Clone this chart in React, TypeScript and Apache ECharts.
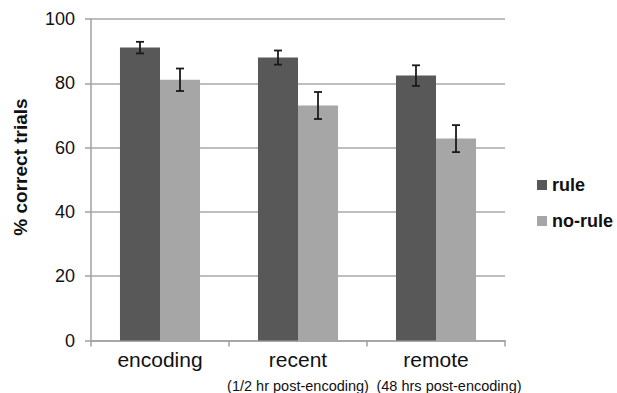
import React, { useEffect, useRef } from "react";
import * as echarts from "echarts";

const categories = ["encoding", "recent", "remote"];
const subLabels = ["", "(1/2 hr post-encoding)", "(48 hrs post-encoding)"];
const seriesNames = ["rule", "no-rule"];
const ruleValues = [91.1, 88.0, 82.4];
const ruleErrors = [1.8, 2.2, 3.2];
const noRuleValues = [81.1, 73.1, 62.8];
const noRuleErrors = [3.5, 4.2, 4.2];
const yTitle = "% correct trials";
const yMin = 0;
const yMax = 100;
const yInterval = 20;

const FONT = "'Liberation Sans', Arial, Helvetica, sans-serif";
const BAR_GAP_FRAC = 0.42;

function errorSeries(values: number[], errors: number[], sign: number) {
  const frac = ((1 - BAR_GAP_FRAC) / 4) * sign;
  return {
    type: "custom",
    name: "err",
    z: 5,
    silent: true,
    data: values.map((v, i) => [i, v - errors[i], v + errors[i]]),
    encode: { x: 0, y: [1, 2] },
    renderItem: (params: any, api: any) => {
      const cat = api.value(0);
      const lo = api.coord([cat, api.value(1)]);
      const hi = api.coord([cat, api.value(2)]);
      const band = api.size([1, 0])[0];
      const x = lo[0] + band * frac;
      const cap = 4;
      const style = { stroke: "#1a1a1a", lineWidth: 1.8 };
      return {
        type: "group",
        children: [
          { type: "line", shape: { x1: x, y1: lo[1], x2: x, y2: hi[1] }, style },
          { type: "line", shape: { x1: x - cap, y1: lo[1], x2: x + cap, y2: lo[1] }, style },
          { type: "line", shape: { x1: x - cap, y1: hi[1], x2: x + cap, y2: hi[1] }, style },
        ],
      };
    },
  };
}

export default function App() {
  const ref = useRef<HTMLDivElement>(null);
  useEffect(() => {
    if (!ref.current) return;
    const chart = echarts.init(ref.current, undefined, { renderer: "svg" });
    chart.setOption({
      animation: false,
      backgroundColor: "#ffffff",
      textStyle: { fontFamily: FONT },
      grid: { left: 91, right: 112, top: 19, bottom: 52, containLabel: false },
      graphic: [
        {
          type: "text",
          x: 20,
          y: 167,
          rotation: Math.PI / 2,
          style: {
            text: yTitle,
            fontFamily: FONT,
            fontSize: 19,
            fontWeight: "bold",
            fill: "#111",
            align: "center",
            verticalAlign: "middle",
          },
        },
      ],
      legend: {
        data: seriesNames,
        orient: "vertical",
        left: 532,
        top: 171,
        icon: "rect",
        itemWidth: 10,
        itemHeight: 10,
        itemGap: 18,
        textStyle: {
          fontFamily: FONT,
          fontSize: 18,
          fontWeight: "bold",
          color: "#111",
          lineHeight: 18,
        },
      },
      xAxis: {
        type: "category",
        data: categories,
        boundaryGap: true,
        axisLine: { lineStyle: { color: "#a0a0a0", width: 1.5 } },
        axisTick: { show: true, length: 6, lineStyle: { color: "#a0a0a0", width: 1.5 } },
        axisLabel: {
          margin: 6,
          interval: 0,
          formatter: (value: string, idx: number) => {
            const sub = subLabels[idx];
            if (!sub) return `{a|${value}}`;
            return `{a|${value}}\n{${idx === 2 ? "c" : "b"}|${sub}}`;
          },
          rich: {
            a: { fontFamily: FONT, fontSize: 21, lineHeight: 25, color: "#111" },
            b: { fontFamily: FONT, fontSize: 14.5, lineHeight: 28, color: "#111" },
            c: {
              fontFamily: FONT,
              fontSize: 14.5,
              lineHeight: 28,
              color: "#111",
              padding: [0, 0, 0, 26],
            },
          },
        },
      },
      yAxis: {
        type: "value",
        min: yMin,
        max: yMax,
        interval: yInterval,
        axisLine: { show: true, lineStyle: { color: "#a0a0a0", width: 1.5 } },
        axisTick: { show: true, length: 6, lineStyle: { color: "#a0a0a0", width: 1.5 } },
        axisLabel: { margin: 16, fontFamily: FONT, fontSize: 18, color: "#111" },
        splitLine: { show: true, lineStyle: { color: "#a8a8a8", width: 1.5 } },
      },
      series: [
        {
          name: seriesNames[0],
          type: "bar",
          data: ruleValues,
          barGap: "0%",
          barCategoryGap: `${BAR_GAP_FRAC * 100}%`,
          itemStyle: { color: "#585858" },
        },
        {
          name: seriesNames[1],
          type: "bar",
          data: noRuleValues,
          barGap: "0%",
          barCategoryGap: `${BAR_GAP_FRAC * 100}%`,
          itemStyle: { color: "#a6a6a6" },
        },
        errorSeries(ruleValues, ruleErrors, -1),
        errorSeries(noRuleValues, noRuleErrors, 1),
      ],
    });
    return () => chart.dispose();
  }, []);
  return <div ref={ref} style={{ width: 617, height: 393, position: "absolute", left: 0, top: 0 }} />;
}
